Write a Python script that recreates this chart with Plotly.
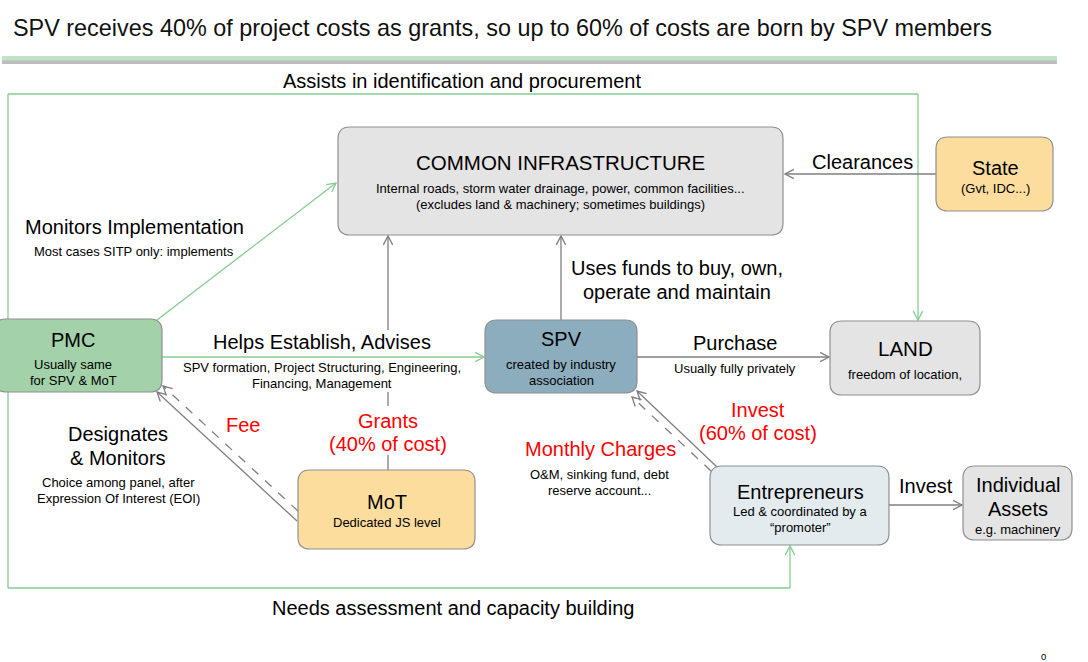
import math
import plotly.graph_objects as go

W, H = 1088, 662
FONT = "Liberation Sans, Arial, sans-serif"

# ---- text content ----
title_text = "SPV receives 40% of project costs as grants, so up to 60% of costs are born by SPV members"
box_names = ["COMMON INFRASTRUCTURE", "State", "PMC", "SPV", "LAND", "MoT", "Entrepreneurs", "Individual<br>Assets"]
box_notes = [
    "Internal roads, storm water drainage, power, common facilities...<br>(excludes land & machinery; sometimes buildings)",
    "(Gvt, IDC...)",
    "Usually same<br>for SPV & MoT",
    "created by industry<br>association",
    "freedom of location,",
    "Dedicated JS level",
    "Led & coordinated by a<br>\u201cpromoter\u201d",
    "e.g. machinery",
]
flow_labels = ["Assists in identification and procurement", "Needs assessment and capacity building",
               "Monitors Implementation", "Helps Establish, Advises", "Uses funds to buy, own,<br>operate and maintain",
               "Clearances", "Purchase", "Invest", "Designates<br>& Monitors"]
flow_notes = ["Most cases SITP only: implements",
              "SPV formation, Project Structuring, Engineering,<br>Financing, Management",
              "Usually fully privately",
              "Choice among panel, after<br>Expression Of Interest (EOI)",
              "O&M, sinking fund, debt<br>reserve account..."]
money_labels = ["Fee", "Grants<br>(40% of cost)", "Invest<br>(60% of cost)", "Monthly Charges"]
page_no = "0"

# ---- layout geometry (pixels) ----
boxes = [  # x0, y0, x1, y1, fill
    (338, 127, 783, 235, "#e4e4e4"),
    (936, 137, 1053, 211, "#fddd9e"),
    (-6, 319, 162, 392, "#a3d1a9"),
    (485, 320, 637, 393, "#8badbe"),
    (830, 321, 980, 395, "#e4e4e4"),
    (298, 470, 475, 549, "#fddd9e"),
    (710, 466, 889, 545, "#e3ebef"),
    (963, 466, 1072, 540, "#e4e4e4"),
]
GREEN = "#86cc92"
GREY = "#7f7f7f"
RED = "#ff0000"

shapes = []


def line(x0, y0, x1, y1, color, width=1.3, dash="solid"):
    shapes.append(dict(type="line", xref="x", yref="y", x0=x0, y0=y0, x1=x1, y1=y1,
                       line=dict(color=color, width=width, dash=dash), layer="above"))


def chevron(x0, y0, x1, y1, color, size=10, ang=28):
    a = math.atan2(y1 - y0, x1 - x0)
    pts = []
    for s in (1, -1):
        b = a + math.pi + s * math.radians(ang)
        pts.append((x1 + size * math.cos(b), y1 + size * math.sin(b)))
    p = f"M{pts[0][0]},{pts[0][1]} L{x1},{y1} L{pts[1][0]},{pts[1][1]}"
    shapes.append(dict(type="path", xref="x", yref="y", path=p,
                       line=dict(color=color, width=1.3), layer="above"))


def arrow(x0, y0, x1, y1, color, dash="solid"):
    line(x0, y0, x1, y1, color, dash=dash)
    chevron(x0, y0, x1, y1, color)


def rrect(x0, y0, x1, y1, fill, r=12):
    p = (f"M{x0+r},{y0} L{x1-r},{y0} Q{x1},{y0} {x1},{y0+r} L{x1},{y1-r} Q{x1},{y1} {x1-r},{y1} "
         f"L{x0+r},{y1} Q{x0},{y1} {x0},{y1-r} L{x0},{y0+r} Q{x0},{y0} {x0+r},{y0} Z")
    shapes.append(dict(type="path", xref="x", yref="y", path=p, fillcolor=fill,
                       line=dict(color="#8f8f8f", width=1.2), layer="above"))


# header separator
shapes.append(dict(type="rect", xref="x", yref="y", x0=2, x1=1057, y0=60, y1=64,
                   fillcolor="#bdbdbd", line=dict(width=0), layer="below"))
shapes.append(dict(type="rect", xref="x", yref="y", x0=2, x1=1057, y0=56, y1=60.5,
                   fillcolor="#bfe3c6", line=dict(width=0), layer="below"))

# green loop lines
line(8, 94, 8, 588, GREEN)
line(8, 94, 918, 94, GREEN)
arrow(918, 94, 918, 320, GREEN)
line(8, 588, 790, 588, GREEN)
arrow(790, 588, 790, 546, GREEN)
# green arrows from PMC
arrow(157, 320, 336, 183, GREEN)
arrow(162, 357, 484, 357, GREEN)

# grey arrows
arrow(388, 330, 388, 236, GREY)
line(388, 392, 388, 406, GREY)
line(388, 455, 388, 470, GREY)
arrow(561, 320, 561, 236, GREY)
arrow(936, 174, 785, 174, GREY)
arrow(637, 357, 829, 357, GREY)
arrow(889, 505, 962, 505, GREY)
arrow(297, 521, 157, 392, GREY)
arrow(298, 511, 163, 386, GREY, dash="dash")
arrow(717, 467, 637, 391, GREY)
arrow(711, 471, 632, 397, GREY, dash="dash")

for b in boxes:
    rrect(*b)

ann = []


def txt(x, y, s, size, color="#000000", xanchor="center", gap=None):
    """y is the centre of the first line; extra lines are placed `gap` px below each other."""
    parts = s.split("<br>")
    if gap is None:
        gap = size * 1.17
    for i, p in enumerate(parts):
        ann.append(dict(x=x, y=y + i * gap, xref="x", yref="y", text=p, showarrow=False, xanchor=xanchor,
                        yanchor="middle", font=dict(family=FONT, size=size, color=color)))


txt(11, 28, title_text, 23.4, "#111111", xanchor="left")

BIG, SMALL = 20, 13
SG = 16
# box texts (y = first line centre)
title_pos = [(560, 162), (995, 168), (73, 340), (561, 339), (905, 348), (387, 502), (800, 492), (1018, 485)]
note_pos = [(560, 188), (995, 188), (73, 364), (561, 364), (905, 374), (387, 522), (800, 511), (1018, 529)]
title_sizes = [20.5, BIG, BIG, BIG, 20.5, BIG, BIG, BIG]
for (x, y), s, fs in zip(title_pos, box_names, title_sizes):
    txt(x, y, s, fs, gap=24)
for (x, y), s in zip(note_pos, box_notes):
    txt(x, y, s, SMALL, gap=SG)

# flow labels
flow_pos = [(462, 81), (453, 608), (134, 227), (322, 342), (677, 268), (862, 162), (735, 343), (926, 486),
            (118, 434)]
for (x, y), s in zip(flow_pos, flow_labels):
    txt(x, y, s, BIG, gap=23.5)
note_pos2 = [(134, 251), (322, 367), (735, 368), (118, 482), (599, 474)]
for (x, y), s in zip(note_pos2, flow_notes):
    txt(x, y, s, SMALL, gap=SG)
money_pos = [(243, 425), (388, 421), (758, 410), (600, 449)]
for (x, y), s in zip(money_pos, money_labels):
    txt(x, y, s, BIG, RED, gap=22.5)

txt(1043, 656, page_no, 9.5)

fig = go.Figure()
fig.update_layout(
    width=W, height=H, margin=dict(l=0, r=0, t=0, b=0),
    paper_bgcolor="white", plot_bgcolor="white",
    xaxis=dict(range=[0, W], visible=False, fixedrange=True),
    yaxis=dict(range=[H, 0], visible=False, fixedrange=True),
    shapes=shapes, annotations=ann, showlegend=False,
)
fig.write_html("out.html", config={"displayModeBar": False},
               post_script="document.body.style.margin='0';document.body.style.overflow='hidden';")
